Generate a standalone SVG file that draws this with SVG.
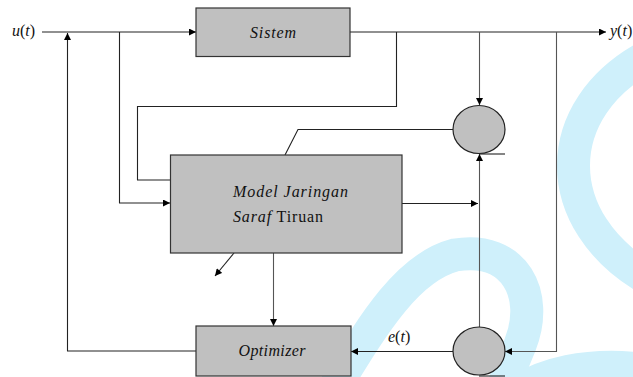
<svg xmlns="http://www.w3.org/2000/svg" width="633" height="377" viewBox="0 0 633 377">
  <defs>
    <marker id="arrow" viewBox="0 0 10 10" refX="10" refY="5" markerWidth="8" markerHeight="7" markerUnits="userSpaceOnUse" orient="auto">
      <path d="M0,0 L10,5 L0,10 Z" fill="#000"/>
    </marker>
    <style>
      .bg { fill: #fff; }
      .wm { fill: none; stroke: #cff0fb; stroke-width: 33; }
      .box { fill: #c0c0c0; stroke: #333; stroke-width: 1.2; }
      .sum { fill: #c0c0c0; stroke: #222; stroke-width: 1.2; }
      .wire { fill: none; stroke: #222; stroke-width: 1.1; }
      .wire.v { stroke: #555; }
      .arr { marker-end: url(#arrow); }
      .it { font-style: italic; }
    </style>
  </defs>

  <rect class="bg" x="0" y="0" width="633" height="377"/>

  <!-- background watermark bands -->
  <g id="watermark">
    <path class="wm" d="M650,55 C548,108 548,222 650,280"/>
    <path class="wm" d="M330,395 C370,330 405,268 455,255 C515,245 540,295 520,345 C512,365 505,380 500,395"/>
    <path class="wm" d="M505,400 C540,372 590,362 650,370"/>
  </g>

  <!-- connectors -->
  <g id="connectors">
    <path class="wire arr" d="M42,32 H196"/>
    <path class="wire arr" d="M350,32 H606"/>
    <path class="wire arr" d="M196,351 H67.5 V33"/>
    <path class="wire arr" d="M119.5,32 V203 H170"/>
    <path class="wire arr" d="M396.5,32 V106.5 H137.5 V180 H177"/>
    <path class="wire v arr" d="M479.5,32 V105"/>
    <path class="wire v arr" d="M556.5,32 V351.5 H505"/>
    <path class="wire" d="M453,129.5 H298 L285,155"/>
    <path class="wire arr" d="M402,203.5 H478"/>
    <path class="wire v arr" d="M479.5,327 V154"/>
    <path class="wire" d="M479,154 H505"/>
    <path class="wire" d="M479,376 H505"/>
    <path class="wire arr" d="M234,253 L215,276"/>
    <path class="wire v arr" d="M273.5,253 V326"/>
    <path class="wire arr" d="M453,351.5 H351"/>
  </g>

  <g font-family="Liberation Serif, serif" font-size="16" fill="#111">
    <g id="sistem">
      <rect class="box" x="196" y="8" width="154" height="48.5"/>
      <text class="it" x="273" y="38" text-anchor="middle" textLength="46" lengthAdjust="spacing">Sistem</text>
    </g>

    <g id="model">
      <rect class="box" x="170.5" y="155" width="231.5" height="98"/>
      <text class="it" x="233" y="197" textLength="115" lengthAdjust="spacing">Model Jaringan</text>
      <text x="233" y="222" textLength="90" lengthAdjust="spacing"><tspan class="it">Saraf</tspan> Tiruan</text>
    </g>

    <g id="optimizer">
      <rect class="box" x="196" y="326" width="155" height="50"/>
      <text class="it" x="272" y="356" text-anchor="middle" textLength="67" lengthAdjust="spacing">Optimizer</text>
    </g>

    <g id="sum-top">
      <ellipse class="sum" cx="479" cy="129.5" rx="26" ry="24"/>
    </g>

    <g id="sum-bottom">
      <ellipse class="sum" cx="479" cy="351" rx="26" ry="24"/>
    </g>

    <g id="labels">
      <text x="12" y="36"><tspan class="it">u</tspan>(<tspan class="it">t</tspan>)</text>
      <text x="610" y="36"><tspan class="it">y</tspan>(<tspan class="it">t</tspan>)</text>
      <text x="388" y="342"><tspan class="it">e</tspan>(<tspan class="it">t</tspan>)</text>
    </g>
  </g>
</svg>
